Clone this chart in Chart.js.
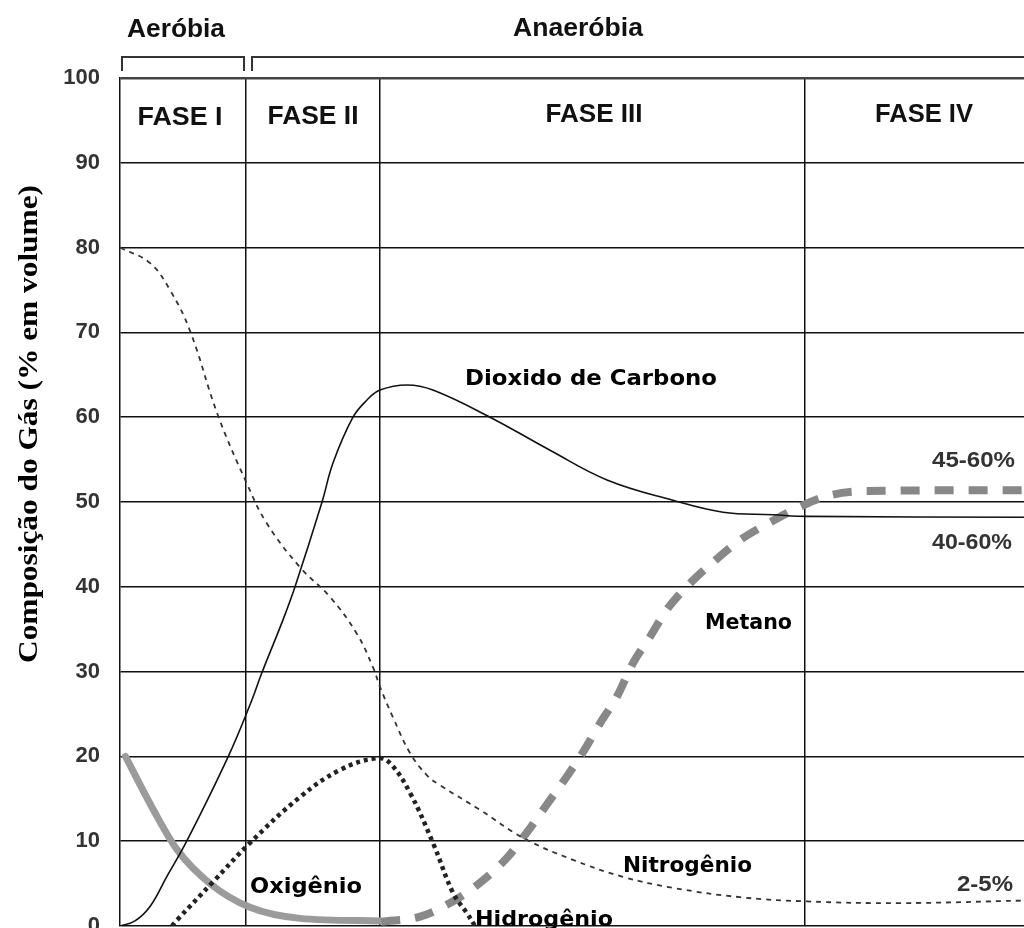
<!DOCTYPE html>
<html><head><meta charset="utf-8">
<script src="https://cdn.jsdelivr.net/npm/chart.js@4/dist/chart.umd.min.js"></script>
<style>html,body{margin:0;padding:0;background:#fff;}#wrap{width:1024px;height:928px;position:relative;}</style>
</head><body><div id="wrap"><canvas id="c" width="1024" height="928"></canvas></div>
<script>
// ---- data (x in arbitrary time units 0..100, y in % volume) ----
const yTicks = [0,10,20,30,40,50,60,70,80,90,100];
const phaseBounds = [13.94, 28.76, 75.77];
const phaseLabels = ['FASE I','FASE II','FASE III','FASE IV'];
const stageLabels = ['Aeróbia','Anaeróbia'];
const yTitle = 'Composição do Gás (% em volume)';

const tN = [0, 3.3, 5.53, 7.74, 10.84, 14.02, 16.23, 19.91, 23.23, 26.18, 27.99, 28.76, 30.2, 32.08, 33.93, 35.4, 39.82, 44.58, 50.11, 55.64, 61.17, 68.58, 75.99, 86.28, 100];
const nitrogenio = [80, 78.2, 75, 70.2, 60.2, 52.2, 47.5, 42.3, 38.8, 34.5, 30.5, 28.2, 24.6, 20.4, 17.8, 16.6, 13.7, 10.4, 7.8, 5.8, 4.5, 3.4, 2.9, 2.7, 3.0];

const tC = [0, 1.66, 3.32, 5.16, 7.38, 11.98, 14.57, 15.67, 18.03, 19.36, 22.35, 23.56, 25.77, 27.3, 28.76, 31.75, 34.62, 40.93, 47.57, 53.87, 61.17, 66.7, 72.23, 75.99, 100];
const co2 = [0, 0.6, 2.3, 5.8, 10, 20, 26.6, 29.8, 36.1, 40, 50, 54.6, 60, 62.0, 63.2, 63.8, 63.2, 60, 56.1, 52.6, 50.2, 48.8, 48.5, 48.3, 48.2];

const tH = [5.75, 6.31, 10.29, 14.38, 19.91, 24.34, 28.43, 29.87, 32.08, 34.62, 36.84, 38.38, 39.27];
const hidrogenio = [0, 0.7, 5.2, 9.8, 15.2, 18.4, 19.8, 19.2, 15.7, 9.8, 3.9, 1.5, 0];

const tO = [0.6, 3.69, 6.31, 9.96, 14.38, 19.91, 28.76];
const oxigenio = [20, 13.7, 9, 5, 2.2, 0.9, 0.6];

const tM = [28.9, 33.19, 36.5, 39.46, 42.78, 44.99, 47.2, 49.41, 51.22, 53.1, 54.95, 56.75, 58.63, 60.48, 63.05, 65.6, 68.58, 71.9, 75.55, 78.54, 82.63, 100];
const metano = [0.5, 1.1, 2.7, 4.8, 8.0, 11, 14.3, 17.6, 20.5, 23.9, 27, 31, 34.1, 37.3, 40.4, 42.9, 45.5, 47.6, 49.6, 50.8, 51.3, 51.4];

const seriesLabels = ['Dioxido de Carbono','Nitrogênio','Hidrogênio','Metano','Oxigênio'];
const rangeLabels = ['45-60%','40-60%','2-5%'];

function pts(xs, ys){ return xs.map((x,i)=>({x:x, y:ys[i]})); }

// text helper: draws text fitted to a target width
function fitText(ctx, text, cx, cy, font, width, color, align){
  ctx.save();
  ctx.font = font;
  ctx.fillStyle = color;
  ctx.textBaseline = 'middle';
  ctx.textAlign = 'left';
  const w = ctx.measureText(text).width;
  const s = width ? width / w : 1;
  const tw = w * s;
  let left = cx - tw/2;
  if (align === 'left') left = cx;
  if (align === 'right') left = cx - tw;
  ctx.translate(left, cy);
  ctx.scale(s, 1);
  ctx.fillText(text, 0, 0);
  ctx.restore();
}

const overlay = {
  id: 'overlay',
  afterDraw(chart){
    const ctx = chart.ctx;
    const xs = chart.scales.x;
    const a = chart.chartArea;
    // stage brackets
    ctx.save();
    ctx.strokeStyle = '#333'; ctx.lineWidth = 2;
    const by = 57, bb = 71;
    const x0 = a.left + 2, x1 = xs.getPixelForValue(phaseBounds[0]) - 2, x2 = xs.getPixelForValue(phaseBounds[0]) + 6, x3 = a.right + 2;
    ctx.beginPath();
    ctx.moveTo(x0, bb); ctx.lineTo(x0, by); ctx.lineTo(x1, by); ctx.lineTo(x1, bb);
    ctx.moveTo(x2, bb); ctx.lineTo(x2, by); ctx.lineTo(x3, by);
    ctx.stroke();
    ctx.restore();
    const hdr = 'bold 25px "Liberation Sans", Arial, sans-serif';
    fitText(ctx, stageLabels[0], 176, 30, hdr, 98, '#111');
    fitText(ctx, stageLabels[1], 578, 29, hdr, 130, '#111');
    // phase labels
    fitText(ctx, phaseLabels[0], 180, 118, hdr, 85, '#111');
    fitText(ctx, phaseLabels[1], 313, 117, hdr, 91, '#111');
    fitText(ctx, phaseLabels[2], 594, 115, hdr, 97, '#111');
    fitText(ctx, phaseLabels[3], 924, 115, hdr, 98, '#111');
    // series labels
    const sf = 'bold 21px "DejaVu Sans", sans-serif';
    fitText(ctx, seriesLabels[0], 465, 380, sf, 252, '#000', 'left');
    fitText(ctx, seriesLabels[1], 623, 867, sf, 129, '#000', 'left');
    fitText(ctx, seriesLabels[2], 475, 921, sf, 138, '#000', 'left');
    fitText(ctx, seriesLabels[3], 705, 624, sf, 87, '#000', 'left');
    fitText(ctx, seriesLabels[4], 250, 888, sf, 112, '#000', 'left');
    // range labels
    const rf = 'bold 22px "Liberation Sans", Arial, sans-serif';
    fitText(ctx, rangeLabels[0], 1015, 461, rf, 83, '#333', 'right');
    fitText(ctx, rangeLabels[1], 1012, 543, rf, 80, '#333', 'right');
    fitText(ctx, rangeLabels[2], 1013, 885, rf, 56, '#333', 'right');
    // y axis title
    ctx.save();
    ctx.translate(30, 424);
    ctx.rotate(-Math.PI/2);
    fitText(ctx, yTitle, 0, 0, 'bold 27px "Liberation Serif", "Times New Roman", serif', 478, '#000');
    ctx.restore();
  }
};

const common = {pointRadius:0, fill:false, tension:0.4, borderJoinStyle:'round'};
const mono = {pointRadius:0, fill:false, cubicInterpolationMode:'monotone', borderJoinStyle:'round'};

new Chart(document.getElementById('c'), {
  type: 'line',
  data: {
    datasets: [
      Object.assign({label:seriesLabels[0], data:pts(tC,co2), borderColor:'#111', borderWidth:1.6}, common),
      Object.assign({label:seriesLabels[1], data:pts(tN,nitrogenio), borderColor:'#333', borderWidth:1.8, borderDash:[5,5]}, common),
      Object.assign({label:seriesLabels[2], data:pts(tH,hidrogenio), borderColor:'#222', borderWidth:4.5, borderDash:[4,4], borderCapStyle:'butt'}, common),
      Object.assign({label:seriesLabels[3], data:pts(tM,metano), borderColor:'#888', borderWidth:8, borderDash:[19,15], borderCapStyle:'butt'}, mono),
      Object.assign({label:seriesLabels[4], data:pts(tO,oxigenio), borderColor:'#9b9b9b', borderWidth:7, borderCapStyle:'round'}, mono)
    ]
  },
  options: {
    responsive: false,
    animation: false,
    devicePixelRatio: 1,
    layout: {padding: {top: 78, bottom: 2, left: 0, right: 0}},
    plugins: {legend:{display:false}, tooltip:{enabled:false}},
    scales: {
      x: {
        type: 'linear', min: 0, max: 100,
        afterBuildTicks(scale){ scale.ticks = phaseBounds.map(v=>({value:v})); },
        afterFit(scale){ scale.height = 0; scale.paddingLeft = 0; scale.paddingRight = 0; scale.paddingTop = 0; scale.paddingBottom = 0; },
        ticks: {display:false},
        grid: {color:'#111', lineWidth:1.5, drawTicks:false},
        border: {display:false}
      },
      y: {
        min: 0, max: 100,
        afterBuildTicks(scale){ scale.ticks = yTicks.map(v=>({value:v})); },
        afterFit(scale){ scale.width = 120; scale.paddingTop = 0; scale.paddingBottom = 0; },
        ticks: {padding: 20, color:'#333', font:{family:'"Liberation Sans", Arial, sans-serif', size:22, weight:'bold'}},
        grid: {color: c => c.tick && c.tick.value === 100 ? '#444' : '#111', lineWidth: c => c.tick && c.tick.value === 100 ? 2.5 : 1.5, drawTicks:false},
        border: {display:true, color:'#111', width:1.5}
      }
    }
  },
  plugins: [overlay]
});
</script>
</body></html>
